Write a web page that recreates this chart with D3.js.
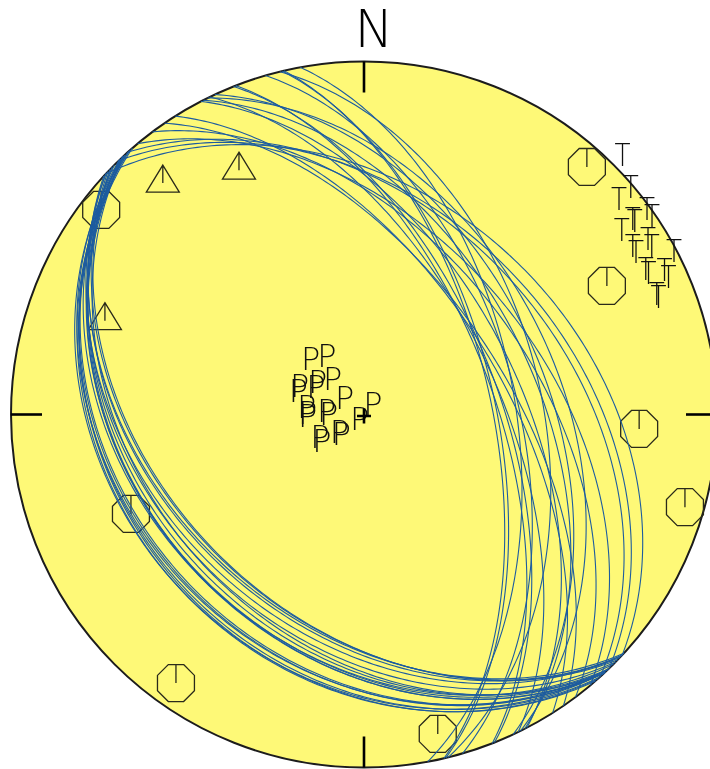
<!DOCTYPE html>
<html>
<head>
<meta charset="utf-8">
<script src="https://cdn.jsdelivr.net/npm/d3@7"></script>
<style>
  html, body { margin: 0; padding: 0; background: #ffffff; }
  svg { display: block; }
  .axis-letter { filter: grayscale(1); }
</style>
</head>
<body>
<svg id="net" width="710" height="769"></svg>
<script>
// Focal mechanisms, one entry per event.
// Nodal planes: strike (right-hand rule, dip to the right of strike) and dip, degrees
const plane1Strike = [133.5, 134.0, 133.0, 132.5, 133.0, 135.0, 137.0, 137.0, 136.3, 137.3, 136.1, 134.5, 136.8, 139.0, 136.0, 136.9, 138.4, 136.9, 138.0];
const plane1Dip    = [42.0, 42.3, 40.7, 41.3, 39.2, 35.0, 35.0, 37.7, 35.3, 35.2, 36.4, 37.9, 29.0, 29.5, 30.7, 31.1, 29.0, 31.6, 30.0];
const plane2Strike = [313.0, 346.2, 316.0, 333.7, 335.0, 320.1, 323.2, 318.0, 332.5, 332.9, 343.8, 349.6, 325.6, 327.7, 334.1, 338.7, 338.3, 346.9, 346.6];
const plane2Dip    = [38.8, 48.4, 41.6, 44.1, 47.4, 48.2, 50.7, 43.0, 54.1, 50.1, 54.6, 54.8, 57.5, 58.3, 59.2, 60.2, 58.9, 60.6, 59.7];
// T and P axes: trend / plunge, degrees
const tTrend  = [45.2, 63.2, 50.1, 54.7, 56.2, 50.4, 54.7, 55.2, 59.2, 60.6, 65.5, 66.9, 55.2, 58.9, 60.2, 63.9, 64.8, 69.0, 69.6];
const tPlunge = [0.0, 4.7, 5.0, 5.1, 5.1, 10.1, 10.4, 10.3, 9.9, 9.9, 9.8, 9.6, 14.9, 14.8, 14.9, 14.7, 14.5, 14.7, 14.5];
const pTrend  = [104.0, 316.5, 281.5, 302.0, 286.4, 228.3, 224.5, 217.7, 260.5, 256.0, 291.7, 306.0, 237.2, 233.1, 259.0, 266.9, 261.6, 283.7, 279.7];
const pPlunge = [89.7, 75.0, 83.7, 79.4, 76.6, 80.1, 80.1, 85.5, 79.5, 79.8, 76.6, 72.6, 75.8, 75.7, 75.0, 75.0, 75.1, 72.9, 72.9];

// Additional axes (octagon and triangle symbols)
const octTrend  = [42.0, 62.1, 93.0, 106.1, 246.9, 215.0, 167.0, 307.9];
const octPlunge = [6.3, 23.2, 23.0, 6.0, 29.0, 7.9, 7.9, 6.3];
const triTrend  = [319.0, 332.9, 289.9];
const triPlunge = [14.2, 23.3, 23.0];

// Compass label
const compassLabels = ["N"];

const cx = 364, cy = 414.5, R = 353;
const rad = Math.PI / 180;

const svg = d3.select("#net");
const x = d3.scaleLinear().domain([-1, 1]).range([cx - R, cx + R]);
const y = d3.scaleLinear().domain([-1, 1]).range([cy + R, cy - R]);

// Vector helpers: (north, east, down)
const add = (a, b) => a.map((c, i) => c + b[i]);
const scale = (a, k) => a.map(c => c * k);
const lower = v => (v[2] < 0 ? scale(v, -1) : v);

function axisVec(trend, plunge) {
  const t = trend * rad, p = plunge * rad;
  return [Math.cos(p) * Math.cos(t), Math.cos(p) * Math.sin(t), Math.sin(p)];
}

// Lambert equal-area projection of the lower hemisphere onto the unit disk
function project(v) {
  const [n, e, d] = lower(v);
  const k = 1 / Math.sqrt(1 + d);
  return [x(e * k), y(n * k)];
}

// Lower-hemisphere trace of a plane given by strike and dip
function greatCircle(strike, dip) {
  const s = axisVec(strike, 0);
  const dv = axisVec(strike + 90, dip);
  return d3.range(0, 181).map(i => add(scale(s, Math.cos(i * rad)), scale(dv, Math.sin(i * rad))));
}

const events = tTrend.map((_, i) => ({
  T: axisVec(tTrend[i], tPlunge[i]),
  P: axisVec(pTrend[i], pPlunge[i]),
  planes: [greatCircle(plane1Strike[i], plane1Dip[i]), greatCircle(plane2Strike[i], plane2Dip[i])]
}));

// Primitive circle
svg.append("circle")
  .attr("cx", cx).attr("cy", cy).attr("r", R)
  .attr("fill", "#fef977")
  .attr("stroke", "#1c1c1c").attr("stroke-width", 2);

// Cardinal ticks
const ticks = [[0, 1], [1, 0], [0, -1], [-1, 0]];
svg.append("g").selectAll("line").data(ticks).join("line")
  .attr("x1", d => x(d[0])).attr("y1", d => y(d[1]))
  .attr("x2", d => x(d[0] * (1 - 31 / R))).attr("y2", d => y(d[1] * (1 - 31 / R)))
  .attr("stroke", "#000").attr("stroke-width", 2.6);

svg.append("text")
  .data(compassLabels)
  .attr("x", x(0) + 10).attr("y", 47)
  .attr("text-anchor", "middle")
  .attr("font-family", "DejaVu Sans, sans-serif")
  .attr("font-weight", 200)
  .attr("font-size", 52)
  .attr("fill", "#000")
  .text(d => d);

// Octagon symbols
const octR = 20;
const octPath = d3.line()(d3.range(8).map(k => {
  const a = (22.5 + 45 * k) * rad;
  return [octR * Math.sin(a), -octR * Math.cos(a)];
})) + "Z" + `M0,${-octR * Math.cos(22.5 * rad)}V0`;
svg.append("g").selectAll("path").data(octTrend.map((t, i) => project(axisVec(t, octPlunge[i])))).join("path")
  .attr("transform", d => `translate(${d[0]},${d[1]})`)
  .attr("d", octPath)
  .attr("fill", "none").attr("stroke", "#2a2a1a").attr("stroke-width", 1.3);

// Triangle symbols
const triPath = "M0,-18L16.5,9L-16.5,9Z M0,-18V0";
svg.append("g").selectAll("path").data(triTrend.map((t, i) => project(axisVec(t, triPlunge[i])))).join("path")
  .attr("transform", d => `translate(${d[0]},${d[1]})`)
  .attr("d", triPath)
  .attr("fill", "none").attr("stroke", "#2a2a1a").attr("stroke-width", 1.3);

// Nodal planes
const line = d3.line().x(v => project(v)[0]).y(v => project(v)[1]);
svg.append("g").selectAll("path")
  .data(events.flatMap(e => e.planes))
  .join("path")
  .attr("d", line)
  .attr("fill", "none")
  .attr("stroke", "#1d5c9f").attr("stroke-width", 1.1);

// P and T axis letters
function letters(key, label, sx, dx) {
  svg.append("g").attr("class", "axis-letter")
    .selectAll("text").data(events).join("text")
    .attr("transform", d => { const p = project(d[key]); return `translate(${p[0] + dx},${p[1]}) scale(${sx},1)`; })
    .attr("font-family", "DejaVu Sans, sans-serif")
    .attr("font-weight", 200)
    .attr("font-size", 32)
    .attr("fill", "#111")
    .text(label);
}
letters("P", "P", 1, -2);
letters("T", "T", 0.82, 0);

// Centre mark
svg.append("path")
  .attr("d", `M${cx - 7},${cy + 1.5}H${cx + 7}M${cx},${cy - 6}V${cy + 9}`)
  .attr("stroke", "#000").attr("stroke-width", 2.6);
</script>
</body>
</html>
